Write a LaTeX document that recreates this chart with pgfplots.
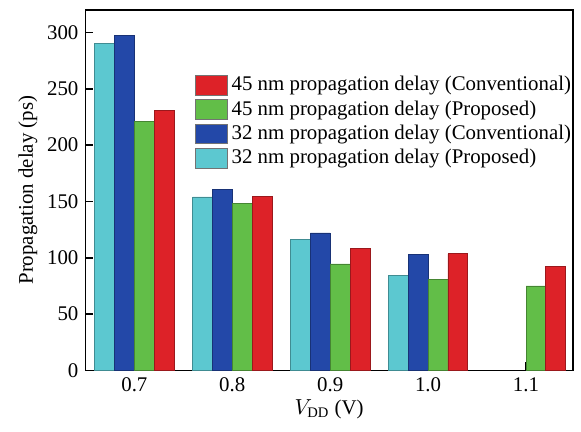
\documentclass[border=0pt]{standalone}
\usepackage{fontspec}
\setmainfont{Liberation Serif}
\usepackage{pgfplots}
\pgfplotsset{compat=1.18}

\definecolor{cCyan}{RGB}{92,200,208}
\definecolor{cBlue}{RGB}{35,72,168}
\definecolor{cGreen}{RGB}{98,190,72}
\definecolor{cRed}{RGB}{221,34,40}

\begin{document}
\begin{tikzpicture}
\begin{axis}[
    scale only axis,
    width=245.5pt, height=181.5pt,
    ybar=0pt,
    bar width=10pt,
    xmin=-0.5, xmax=4.48,
    ymin=0, ymax=320,
    xtick={0,1,2,3,4},
    xticklabels={0.7,0.8,0.9,1.0,1.1},
    ytick={0,50,100,150,200,250,300},
    xtick pos=bottom, ytick pos=left,
    axis line style={black, line width=0.9pt},
    tick style={black, line width=0.8pt},
    tick align=inside,
    major tick length=4pt,
    font=\fontsize{10.5}{12}\selectfont,
    /pgf/number format/assume math mode=true,
    ylabel={Propagation delay (ps)},
    xlabel={$V_{\mathrm{DD}}$ (V)},
    ylabel style={yshift=-2pt},
    xlabel style={yshift=3pt},
    legend style={at={(0.212,0.839)}, anchor=north west, draw=none, fill=none,
        font=\fontsize{10.5}{12}\selectfont, row sep=-0.5pt,
        /tikz/every even column/.append style={column sep=1pt}},
    legend cell align=left,
    reverse legend,
    legend image code/.code={\draw[#1, draw=black!55, line width=0.4pt] (0pt,-5pt) rectangle (16pt,5pt);},
]
\addplot[fill=cCyan, draw=cCyan!70!black, line width=0.4pt] coordinates {(0,290) (1,154) (2,116) (3,84.5)};
\addplot[fill=cBlue, draw=cBlue!70!black, line width=0.4pt] coordinates {(0,297) (1,161) (2,122) (3,103)};
\addplot[fill=cGreen, draw=cGreen!70!black, line width=0.4pt] coordinates {(0,221) (1,148.5) (2,94.5) (3,81) (4,75)};
\addplot[fill=cRed, draw=cRed!70!black, line width=0.4pt] coordinates {(0,231) (1,154.5) (2,108) (3,103.5) (4,92.5)};
\legend{32 nm propagation delay (Proposed), 32 nm propagation delay (Conventional), 45 nm propagation delay (Proposed), 45 nm propagation delay (Conventional)}
\end{axis}
\path ([xshift=-43pt,yshift=-30.5pt]current axis.south west) rectangle ([xshift=2pt,yshift=5pt]current axis.north east);
\end{tikzpicture}
\end{document}
